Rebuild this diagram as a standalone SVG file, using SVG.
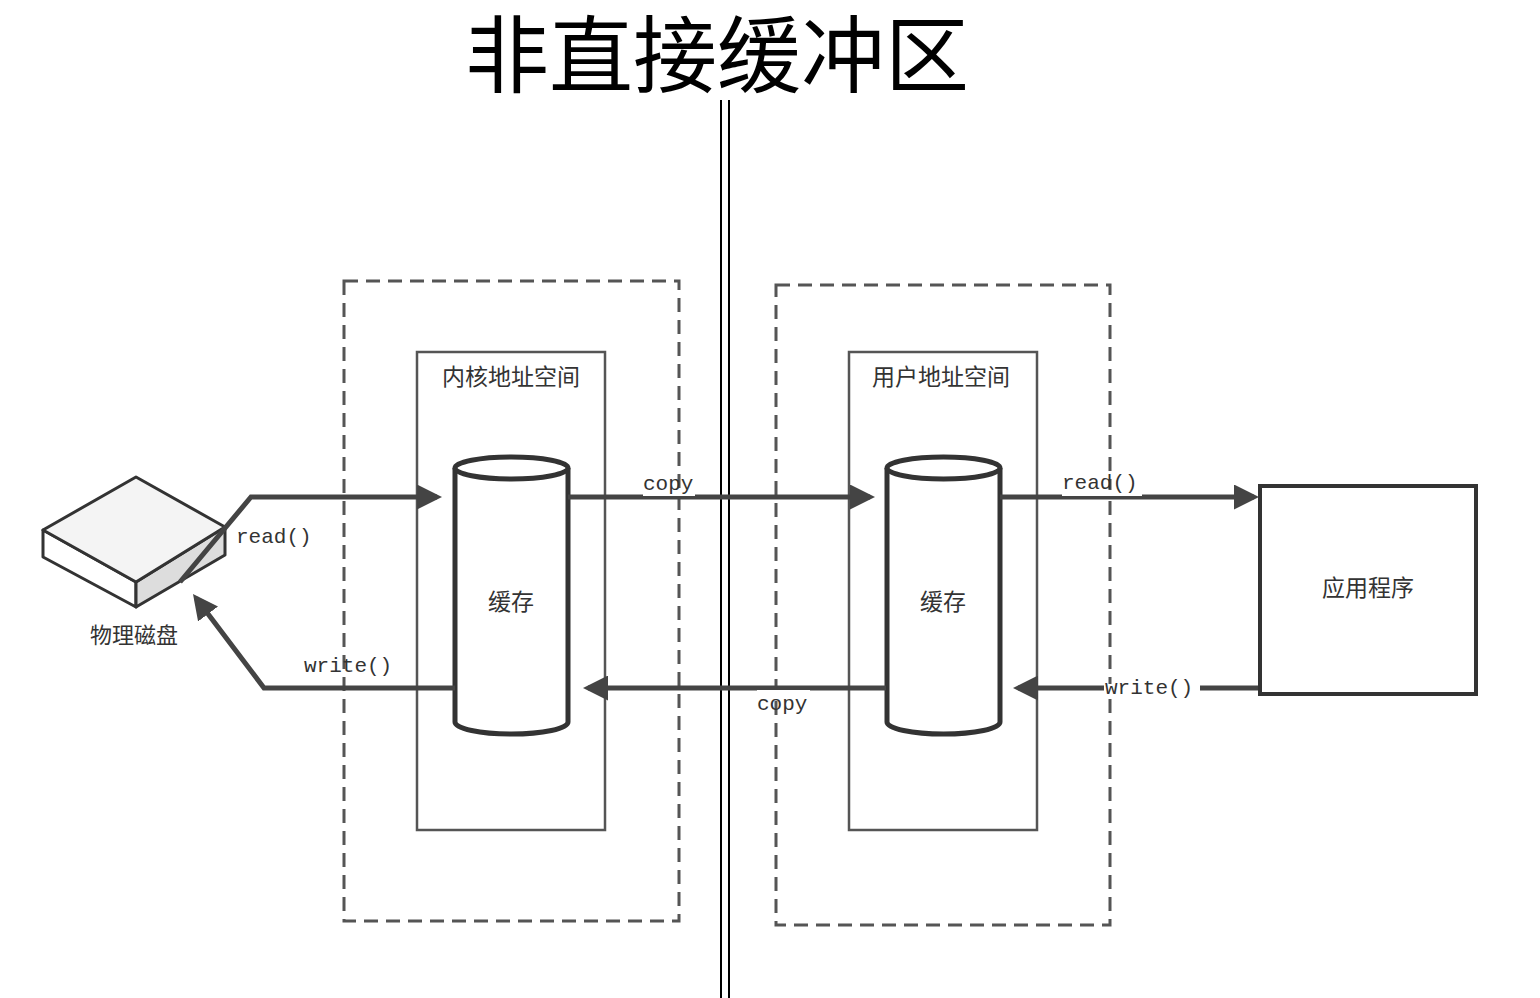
<svg xmlns="http://www.w3.org/2000/svg" width="1540" height="998" viewBox="0 0 1540 998">
<style>
.cn{font-family:"Noto Sans CJK SC",sans-serif;fill:#333}
.mono{font-family:"Liberation Mono",monospace;font-size:21px;fill:#333}
.dash{fill:none;stroke:#555;stroke-width:3;stroke-dasharray:14,8}
.box{fill:none;stroke:#555;stroke-width:2.5}
.cyl{fill:#fff;stroke:#333;stroke-width:5}
.arr{fill:none;stroke:#444;stroke-width:5;marker-end:url(#ah)}
</style>
<defs><marker id="ah" markerWidth="5" markerHeight="5" refX="4" refY="2.5" orient="auto" markerUnits="strokeWidth"><path d="M0,0L5,2.5L0,5z" fill="#444"/></marker></defs>
<rect width="1540" height="998" fill="#fff"/>
<text x="717" y="86" text-anchor="middle" font-size="84" style="font-family:'Noto Sans CJK SC',sans-serif" fill="#000">非直接缓冲区</text>
<line x1="721" y1="100" x2="721" y2="998" stroke="#000" stroke-width="2"/>
<line x1="729" y1="100" x2="729" y2="998" stroke="#000" stroke-width="2"/>
<rect class="dash" x="344" y="281" width="335" height="640"/>
<rect class="dash" x="776" y="285" width="334" height="640"/>
<g id="kernel"><rect class="box" x="417" y="352" width="188" height="478"/><text class="cn" x="511" y="385" font-size="23" text-anchor="middle">内核地址空间</text></g>
<g id="user"><rect class="box" x="849" y="352" width="188" height="478"/><text class="cn" x="941" y="385" font-size="23" text-anchor="middle">用户地址空间</text></g>
<g id="cache1"><path class="cyl" d="M455,468 V722 A56,12 0 0 0 568,722 V468"/><ellipse class="cyl" cx="511.5" cy="468" rx="56.5" ry="11"/><text class="cn" x="511" y="610" font-size="23" text-anchor="middle">缓存</text></g>
<g id="cache2"><path class="cyl" d="M887,468 V722 A56,12 0 0 0 1000,722 V468"/><ellipse class="cyl" cx="943.5" cy="468" rx="56.5" ry="11"/><text class="cn" x="943" y="610" font-size="23" text-anchor="middle">缓存</text></g>
<g id="app"><rect x="1260" y="486" width="216" height="208" fill="#fff" stroke="#333" stroke-width="4"/><text class="cn" x="1368" y="596" font-size="23" text-anchor="middle">应用程序</text></g>
<g id="disk" stroke="#333" stroke-width="3" stroke-linejoin="round">
<polygon points="43,530 136,582 136,607 43,557" fill="#fff"/>
<polygon points="136,582 225,527 225,555 136,607" fill="#ddd"/>
<polygon points="43,530 136,477 225,527 136,582" fill="#f4f4f4"/>
<text class="cn" x="134" y="643" font-size="22" text-anchor="middle" stroke="none">物理磁盘</text>
</g>
<g id="connectors">
<polyline class="arr" points="180,582 251,497 437,497"/>
<polyline class="arr" points="455,688 264,688 196,598"/>
<line class="arr" x1="568" y1="497" x2="870" y2="497"/>
<line class="arr" x1="886" y1="688" x2="588" y2="688"/>
<line class="arr" x1="1000" y1="497" x2="1254" y2="497"/>
<line class="arr" x1="1258" y1="688" x2="1018" y2="688"/>
<rect x="643" y="490" width="52" height="6" fill="#fff"/>
<rect x="757" y="690" width="53" height="6" fill="#fff"/>
<rect x="1062" y="490" width="80" height="6" fill="#fff"/>
<rect x="1104" y="684" width="96" height="8" fill="#fff"/>
</g>
<text class="mono" x="236" y="543">read()</text>
<text class="mono" x="304" y="672">write()</text>
<text class="mono" x="643" y="490">copy</text>
<text class="mono" x="757" y="710">copy</text>
<text class="mono" x="1062" y="489">read()</text>
<text class="mono" x="1105" y="694">write()</text>
</svg>
